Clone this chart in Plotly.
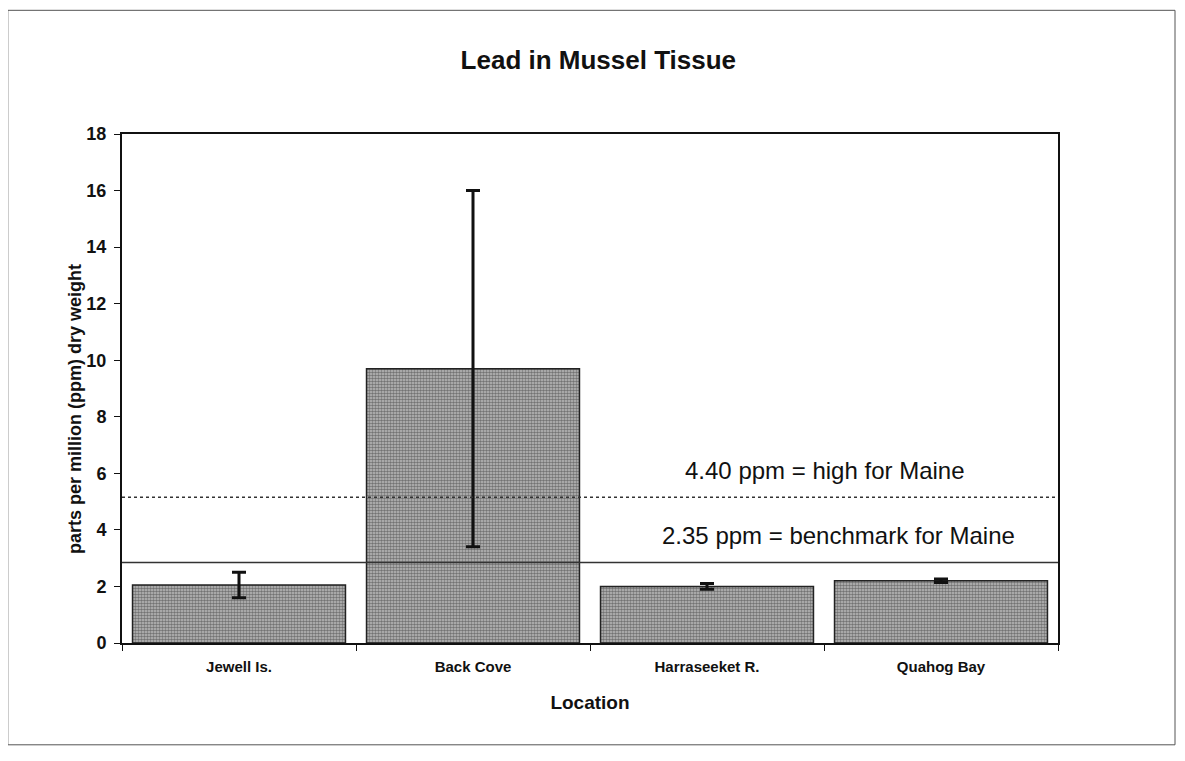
import plotly.graph_objects as go

# values
locations = ["Jewell Is.", "Back Cove", "Harraseeket R.", "Quahog Bay"]
lead_ppm = [2.05, 9.7, 2.0, 2.2]
lead_err = [0.45, 6.3, 0.1, 0.06]

y_ticks = [0, 2, 4, 6, 8, 10, 12, 14, 16, 18]

# reference lines as drawn on the page, with their labels
high_line = 5.15
high_label = "4.40 ppm = high for Maine"
bench_line = 2.85
bench_label = "2.35 ppm = benchmark for Maine"

font = "Arial, Liberation Sans, sans-serif"

fig = go.Figure()
fig.add_trace(go.Bar(
    x=locations, y=lead_ppm,
    marker=dict(
        color="#a0a0a0",
        line=dict(color="#222", width=1.5),
        pattern=dict(shape=".", fgcolor="#2a2a2a", bgcolor="#bcbcbc", size=3, solidity=0.55),
    ),
    error_y=dict(type="data", array=lead_err, color="#111", thickness=3, width=7),
    showlegend=False,
))

fig.add_hline(y=high_line, line=dict(color="#333", width=1.5, dash="dot"))
fig.add_hline(y=bench_line, line=dict(color="#333", width=1.5))

fig.add_annotation(x=0.751, y=high_line, xref="paper", yref="y", xanchor="center", text=high_label,
                   showarrow=False, yshift=27, font=dict(family=font, size=24, color="#111"))
fig.add_annotation(x=0.766, y=bench_line, xref="paper", yref="y", xanchor="center", text=bench_label,
                   showarrow=False, yshift=27, font=dict(family=font, size=24, color="#111"))

# y axis title placed like the scan (a little below centre)
fig.add_annotation(x=-0.05, y=0.46, xref="paper", yref="paper", textangle=-90,
                   xanchor="center", yanchor="middle",
                   text="<b>parts per million (ppm) dry weight</b>", showarrow=False,
                   font=dict(family=font, size=18, color="#111"))

# outer frame of the page figure
fig.add_shape(type="rect", xref="paper", yref="paper", x0=-0.122, x1=1.125, y0=-0.2, y1=1.243,
              line=dict(color="#555", width=1))

fig.update_layout(
    width=1169, height=745,
    margin=dict(l=114, r=119, t=126, b=110),
    paper_bgcolor="white", plot_bgcolor="white",
    bargap=0.09,
    title=dict(text="<b>Lead in Mussel Tissue</b>", x=0.505, xanchor="center", y=0.93, yanchor="middle",
               font=dict(family=font, size=26, color="#111")),
    font=dict(family=font, color="#111"),
)
fig.update_xaxes(
    showline=True, linecolor="#111", linewidth=2, mirror=True,
    ticks="outside", tickson="boundaries", ticklen=6, tickcolor="#111",
    ticklabelstandoff=9,
    tickfont=dict(size=15, family=font, weight="bold"),
    title=dict(text="<b>Location</b>", font=dict(size=19, family=font), standoff=22),
)
fig.update_yaxes(
    range=[0, 18], tickvals=y_ticks,
    showline=True, linecolor="#111", linewidth=2, mirror=True,
    showgrid=False, zeroline=False,
    ticks="outside", ticklen=6, tickcolor="#111",
    ticklabelstandoff=4,
    tickfont=dict(size=18, family=font, weight="bold"),
)

fig.write_html("out.html")
